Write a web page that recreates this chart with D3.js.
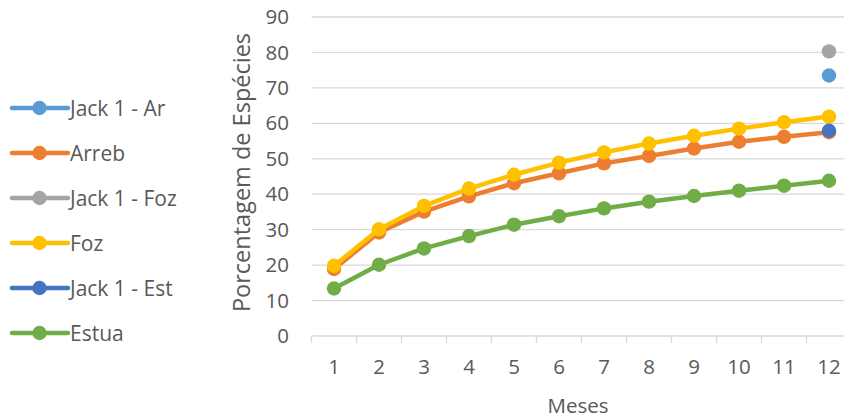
<!DOCTYPE html>
<html>
<head>
<meta charset="utf-8">
<script src="https://cdn.jsdelivr.net/npm/d3@7"></script>
<style>
  html, body { margin: 0; padding: 0; background: #ffffff; }
  svg { display: block; }
  text { font-family: "Open Sans", sans-serif; fill: #595959; }
</style>
</head>
<body>
<svg id="chart" width="844" height="418"></svg>
<script>
// ---- data ----
const months = [1, 2, 3, 4, 5, 6, 7, 8, 9, 10, 11, 12];
const yTicks = [0, 10, 20, 30, 40, 50, 60, 70, 80, 90];
const seriesNames = ["Jack 1 - Ar", "Arreb", "Jack 1 - Foz", "Foz", "Jack 1 - Est", "Estua"];
const seriesColors = ["#5B9BD5", "#ED7D31", "#A5A5A5", "#FFC000", "#4472C4", "#70AD47"];
const jack1Ar  = [null, null, null, null, null, null, null, null, null, null, null, 73.5];
const arreb    = [18.9, 29.2, 35.1, 39.4, 43.1, 45.9, 48.7, 50.8, 52.9, 54.8, 56.2, 57.5];
const jack1Foz = [null, null, null, null, null, null, null, null, null, null, null, 80.3];
const foz      = [19.8, 30.1, 36.7, 41.6, 45.5, 48.9, 51.8, 54.3, 56.5, 58.5, 60.3, 61.9];
const jack1Est = [null, null, null, null, null, null, null, null, null, null, null, 57.9];
const estua    = [13.4, 20.1, 24.7, 28.2, 31.4, 33.8, 36.0, 37.9, 39.5, 41.0, 42.4, 43.8];
const seriesValues = [jack1Ar, arreb, jack1Foz, foz, jack1Est, estua];
const xTitle = "Meses";
const yTitle = "Porcentagem de Espécies";

// ---- layout ----
const svg = d3.select("#chart");
const plotLeft = 311.5, plotRight = 851.5, plotTop = 17, plotBottom = 336;
const x = d3.scaleBand().domain(months).range([plotLeft, plotRight]).paddingInner(0).paddingOuter(0);
const y = d3.scaleLinear().domain([0, 90]).range([plotBottom, plotTop]);
const gridColor = "#D9D9D9";
const tickFont = "20.5px";

// gridlines
svg.append("g")
  .selectAll("line")
  .data(yTicks.filter(d => d > 0))
  .join("line")
  .attr("x1", plotLeft).attr("x2", 844)
  .attr("y1", d => y(d)).attr("y2", d => y(d))
  .attr("stroke", gridColor).attr("stroke-width", 1.3);

// y axis labels
const yAxis = d3.axisLeft(y).tickValues(yTicks).tickSize(0).tickPadding(0);
const gy = svg.append("g").attr("transform", `translate(${289},0)`).call(yAxis);
gy.select(".domain").remove();
gy.selectAll("text").style("font-size", tickFont).attr("fill", "#595959")
  .style("font-family", '"Open Sans", sans-serif');

// x axis
const xAxis = d3.axisBottom(x).tickSize(0).tickPadding(23);
const gx = svg.append("g").attr("transform", `translate(0,${plotBottom})`).call(xAxis);
gx.select(".domain").attr("stroke", gridColor).attr("stroke-width", 1.3)
  .attr("d", `M${plotLeft},0H${plotRight}`);
gx.selectAll("text").style("font-size", tickFont).attr("fill", "#595959")
  .style("font-family", '"Open Sans", sans-serif');
// tick marks at category boundaries
svg.append("g")
  .selectAll("line")
  .data(months)
  .join("line")
  .attr("x1", d => x(d)).attr("x2", d => x(d))
  .attr("y1", plotBottom).attr("y2", plotBottom + 7)
  .attr("stroke", gridColor).attr("stroke-width", 1.3);

// axis titles
svg.append("text")
  .attr("x", 578).attr("y", 413)
  .attr("text-anchor", "middle")
  .style("font-size", "20.5px")
  .text(xTitle);
svg.append("text")
  .attr("transform", `translate(250,${172.5}) rotate(-90)`)
  .attr("text-anchor", "middle")
  .style("font-size", "23.5px")
  .text(yTitle);

// series
const cx = d => x(d) + x.bandwidth() / 2;
const line = d3.line()
  .defined(d => d.v !== null)
  .x(d => cx(d.m))
  .y(d => y(d.v));

seriesNames.forEach((name, i) => {
  const pts = months.map((m, j) => ({ m: m, v: seriesValues[i][j] }));
  const g = svg.append("g");
  g.append("path")
    .datum(pts)
    .attr("d", line)
    .attr("fill", "none")
    .attr("stroke", seriesColors[i])
    .attr("stroke-width", 4.5)
    .attr("stroke-linejoin", "round")
    .attr("stroke-linecap", "round");
  g.selectAll("circle")
    .data(pts.filter(d => d.v !== null))
    .join("circle")
    .attr("cx", d => cx(d.m))
    .attr("cy", d => y(d.v))
    .attr("r", 7.2)
    .attr("fill", seriesColors[i]);
});

// legend
const legend = svg.append("g");
seriesNames.forEach((name, i) => {
  const cy = 108 + i * 45;
  legend.append("line")
    .attr("x1", 12).attr("x2", 68).attr("y1", cy).attr("y2", cy)
    .attr("stroke", seriesColors[i]).attr("stroke-width", 4.5)
    .attr("stroke-linecap", "round");
  legend.append("circle")
    .attr("cx", 39.5).attr("cy", cy).attr("r", 7.2)
    .attr("fill", seriesColors[i]);
  legend.append("text")
    .attr("x", 70).attr("y", cy)
    .attr("dy", "0.36em")
    .style("font-size", "21px")
    .text(name);
});
</script>
</body>
</html>
